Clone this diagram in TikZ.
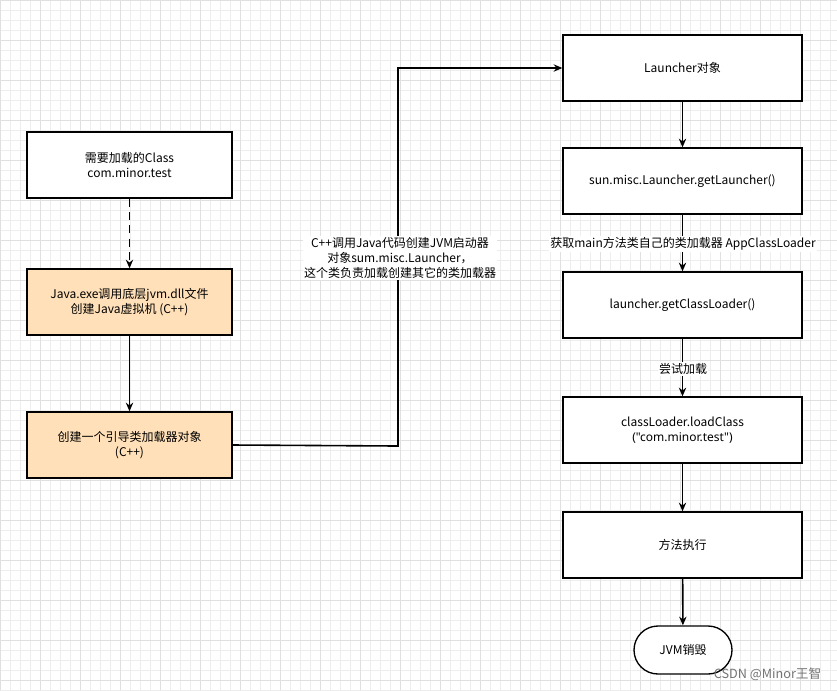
\documentclass[tikz,border=0pt]{standalone}
\usepackage{fontspec}
\setmainfont{Noto Sans CJK SC}
\newfontfamily\latin{Noto Sans}
\usetikzlibrary{arrows.meta}
\definecolor{fillor}{HTML}{FFE0B8}
\tikzset{
  px/.style={x=0.75pt,y=-0.75pt},
  box/.style={rectangle, draw=black, line width=1pt, fill=white, align=center, font=\fontsize{9}{11.5}\selectfont, inner sep=2pt},
  lbox/.style={box, minimum width=153.75pt, minimum height=49.5pt},
  rbox/.style={box, minimum width=179.25pt, minimum height=49.5pt},
  hot/.style={fill=fillor},
  arrow/.style={line width=1.2pt, -{Stealth[length=6.5pt,width=5.5pt]}},
  lbl/.style={fill=white, inner sep=1pt, align=center, font=\fontsize{9}{11.5}\selectfont}
}
\begin{document}
\begin{tikzpicture}[px]
\useasboundingbox (0,0) rectangle (837,690);
\fill[white] (0,0) rectangle (837,690);
\draw[black!7, line width=0.3pt, step=7.5pt] (0,0) grid (837,690);
\draw[black!12, line width=0.4pt, step=30pt] (0,0) grid (837,690);

\node (cls) [lbox] at (129.5,165) {需要加载的Class\\com.minor.test};
\node (jexe) [lbox, hot] at (129.5,302) {Java.exe调用底层jvm.dll文件\\创建Java虚拟机 (C++)};
\node (boot) [lbox, hot] at (129.5,445) {创建一个引导类加载器对象\\(C++)};

\node (lch) [rbox] at (682.5,68) {Launcher对象};
\node (getl) [rbox] at (682.5,181) {sun.misc.Launcher.getLauncher()};
\node (getc) [rbox] at (682.5,305) {launcher.getClassLoader()};
\node (load) [rbox] at (682.5,430) {classLoader.loadClass\\{\latin (\char"22 com.minor.test\char"22)}};
\node (exec) [rbox] at (682.5,545) {方法执行};
\node (die) [box, rounded corners=18pt, minimum width=73.5pt, minimum height=36pt] at (683,650) {JVM销毁};

\coordinate (bend1) at (398,446);
\coordinate (bend2) at (398,68);

\draw[arrow, dashed, dash pattern=on 6pt off 4pt] (cls) -- (jexe);
\draw[arrow] (jexe) -- (boot);
\draw[arrow] (boot.east) -- (bend1) -- (bend2) -- (lch.west);
\node (lbl1) [lbl] at (400,258) {C++调用Java代码创建JVM启动器\\对象sum.misc.Launcher，\\这个类负责加载创建其它的类加载器};

\draw[arrow] (lch) -- (getl);
\draw[arrow] (getl) -- (getc);
\node (lbl2) [lbl] at (683,244) {获取main方法类自己的类加载器 AppClassLoader};
\draw[arrow] (getc) -- (load);
\node (lbl3) [lbl] at (683,369) {尝试加载};
\draw[arrow] (load) -- (exec);
\draw[arrow] (exec) -- (die);

\node (wm) [font=\fontsize{9.5}{11}\selectfont, text=black!55, anchor=east] at (826,674) {CSDN @Minor王智};
\end{tikzpicture}
\end{document}
